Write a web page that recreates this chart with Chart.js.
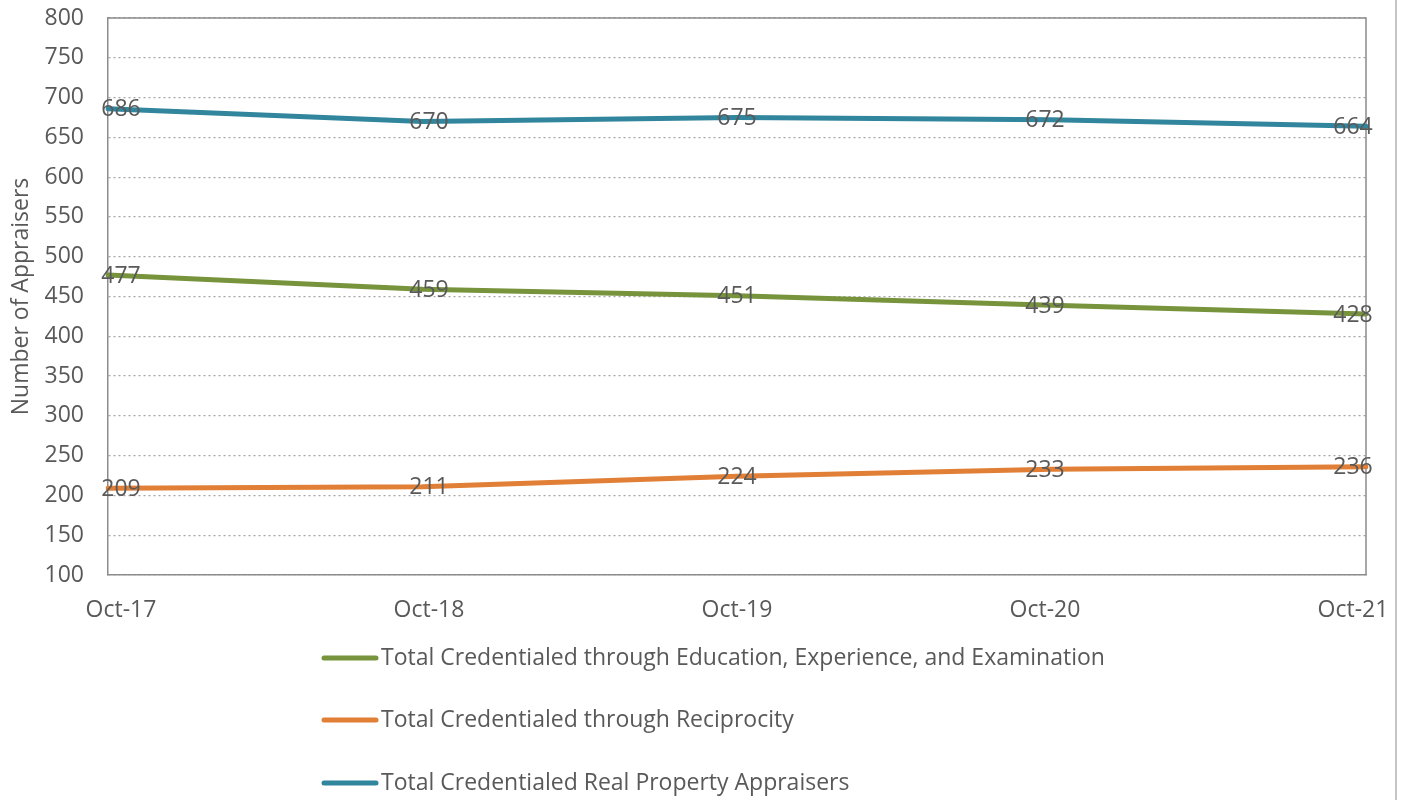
<!DOCTYPE html>
<html>
<head>
<meta charset="utf-8">
<script src="https://cdn.jsdelivr.net/npm/chart.js@4.4.1/dist/chart.umd.min.js"></script>
<style>
  html, body { margin: 0; padding: 0; background: #fff; }
  #wrap { width: 1408px; height: 800px; position: relative; }
</style>
</head>
<body>
<div id="wrap"><canvas id="chart" width="1408" height="800"></canvas></div>
<script>
const categories = ['Oct-17', 'Oct-18', 'Oct-19', 'Oct-20', 'Oct-21'];
const eduExpExam = [477, 459, 451, 439, 428];
const reciprocity = [209, 211, 224, 233, 236];
const realProperty = [686, 670, 675, 672, 664];
const yTicks = [100, 150, 200, 250, 300, 350, 400, 450, 500, 550, 600, 650, 700, 750, 800];

const textColor = '#595959';
const fontFamily = '"Open Sans", "DejaVu Sans", sans-serif';
const fontSize = 23;
const labelInset = 13;

// the office chart pulls its text labels a little inward from the plot edges
function insetX(chart, x) {
  const { left, right } = chart.chartArea;
  const w = right - left;
  return left + labelInset + (x - left) * (w - 2 * labelInset) / w;
}

const pointLabels = {
  id: 'pointLabels',
  beforeDraw(chart) {
    const scale = chart.scales.x;
    scale.getLabelItems(chart.chartArea).forEach(item => {
      const t = item.options.translation;
      if (!item._moved) {
        t[0] = insetX(chart, t[0]);
        item._moved = true;
      }
    });
  },
  afterDatasetsDraw(chart) {
    const { ctx } = chart;
    ctx.save();
    ctx.font = fontSize + 'px ' + fontFamily;
    ctx.fillStyle = textColor;
    ctx.textAlign = 'center';
    ctx.textBaseline = 'middle';
    chart.data.datasets.forEach((ds, i) => {
      chart.getDatasetMeta(i).data.forEach((pt, j) => {
        ctx.fillText(String(ds.data[j]), insetX(chart, pt.x), pt.y + 1);
      });
    });
    ctx.restore();
  }
};

// frame on top and right, stacked legend and the page edge line
const extras = {
  id: 'extras',
  beforeDatasetsDraw(chart) {
    const { ctx, chartArea } = chart;
    ctx.save();
    ctx.strokeStyle = '#8c8c8c';
    ctx.lineWidth = 1.5;
    ctx.beginPath();
    ctx.moveTo(chartArea.left, chartArea.top);
    ctx.lineTo(chartArea.right, chartArea.top);
    ctx.lineTo(chartArea.right, chartArea.bottom);
    ctx.stroke();
    ctx.restore();
  },
  afterDraw(chart) {
    const { ctx } = chart;
    ctx.save();
    const rows = [658, 720, 783];
    ctx.font = fontSize + 'px ' + fontFamily;
    ctx.textBaseline = 'middle';
    ctx.textAlign = 'left';
    chart.data.datasets.forEach((ds, i) => {
      const y = rows[i];
      ctx.strokeStyle = ds.borderColor;
      ctx.lineWidth = 5;
      ctx.lineCap = 'round';
      ctx.beginPath();
      ctx.moveTo(324, y);
      ctx.lineTo(376, y);
      ctx.stroke();
      ctx.fillStyle = textColor;
      ctx.fillText(ds.label, 381, y);
    });
    ctx.strokeStyle = '#c4c4c4';
    ctx.lineWidth = 2;
    ctx.beginPath();
    ctx.moveTo(1396, 0);
    ctx.lineTo(1396, 800);
    ctx.stroke();
    ctx.restore();
  }
};

new Chart(document.getElementById('chart'), {
  type: 'line',
  data: {
    labels: categories,
    datasets: [
      { label: 'Total Credentialed through Education, Experience, and Examination', data: eduExpExam, borderColor: '#77933c' },
      { label: 'Total Credentialed through Reciprocity', data: reciprocity, borderColor: '#e07f35' },
      { label: 'Total Credentialed Real Property Appraisers', data: realProperty, borderColor: '#31859c' }
    ]
  },
  options: {
    responsive: false,
    animation: false,
    layout: { padding: 0 },
    elements: {
      line: { borderWidth: 5, tension: 0, borderCapStyle: 'round', borderJoinStyle: 'round', fill: false },
      point: { radius: 0 }
    },
    plugins: {
      legend: { display: false },
      tooltip: { enabled: false }
    },
    scales: {
      x: {
        offset: false,
        grid: { display: false, drawTicks: false },
        border: { display: true, color: '#8c8c8c', width: 1.5 },
        ticks: { color: textColor, font: { family: fontFamily, size: fontSize }, padding: 22, maxRotation: 0 },
        afterFit(scale) {
          scale.height = 225;
          scale.paddingLeft = 0;
          scale.paddingRight = 42;
        }
      },
      y: {
        min: 100,
        max: 800,
        afterBuildTicks(scale) { scale.ticks = yTicks.map(v => ({ value: v })); },
        grid: { color: '#a6a6a6', lineWidth: 1.2, drawTicks: false },
        border: { display: true, color: '#8c8c8c', width: 1.5, dash: [2, 3] },
        ticks: { color: textColor, font: { family: fontFamily, size: fontSize }, padding: 24 },
        title: {
          display: true,
          text: 'Number of Appraisers',
          color: textColor,
          font: { family: fontFamily, size: fontSize },
          padding: { top: 8, bottom: 0 }
        },
        afterFit(scale) {
          scale.width = 108;
          scale.paddingTop = 18;
          scale.paddingBottom = 0;
        }
      }
    }
  },
  plugins: [extras, pointLabels]
});
</script>
</body>
</html>
